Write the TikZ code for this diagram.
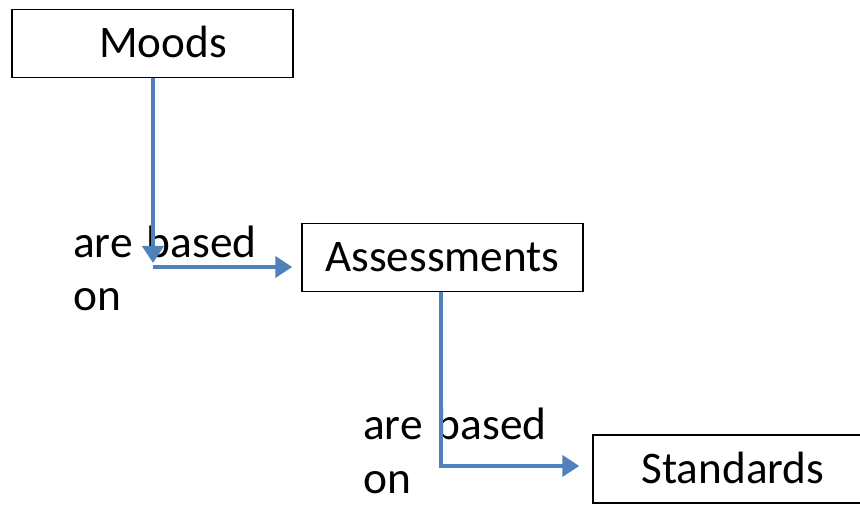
\documentclass[tikz,border=0pt]{standalone}
\usepackage{fontspec}
\setmainfont{Carlito}
\usetikzlibrary{arrows.meta}
\definecolor{connblue}{HTML}{4F81BD}
\begin{document}
\begin{tikzpicture}[x=1pt,y=-1pt,
  box/.style={draw=black,line width=1.5pt,minimum height=68pt,inner sep=0pt,
    text height=28.5pt,text depth=0pt,font=\fontsize{45.2}{54}\selectfont},
  lbl/.style={anchor=base west,inner sep=0pt,align=left,
    font=\fontsize{45.4}{54}\selectfont},
  conn/.style={draw=connblue,line width=4.8pt},
  arr/.style={conn,-{Triangle[length=17pt,width=21pt]}}]
\useasboundingbox (0,0) rectangle (860,505);
\node[box,minimum width=281pt] (moods) at (152.5,43.5) {\hspace*{21pt}Moods};
\node[box,minimum width=281pt] (assess) at (442.5,257.5) {Assessments};
\node[box,minimum width=280pt] (std) at (733,469) {Standards};
\node[lbl] (l1) at (73,311) {are\hspace{14pt}based\\on};
\node[lbl] (l2) at (363,493) {are\hspace{14pt}based\\on};
\coordinate (k1) at (153,263);
\coordinate (k2) at (153,267);
\coordinate (k3) at (441,466);
\draw[arr] (moods.south -| k1) -- (k1);
\draw[arr,shorten >=9pt] (k2) -- (assess.west |- k2);
\draw[arr,shorten >=13pt] (assess.south -| k3) -- (k3) -- (std.west |- k3);
\end{tikzpicture}
\end{document}
